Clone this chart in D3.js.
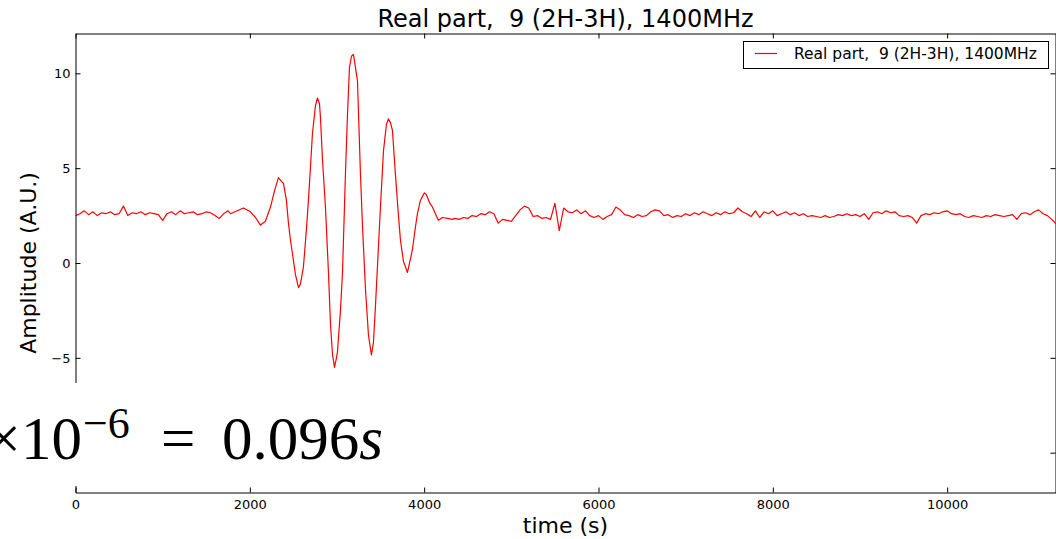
<!DOCTYPE html>
<html>
<head>
<meta charset="utf-8">
<script src="https://cdn.jsdelivr.net/npm/d3@7"></script>
<style>
  body { margin: 0; background: #fff; }
  svg text { font-family: "DejaVu Sans", sans-serif; fill: #000; white-space: pre; }
</style>
</head>
<body>
<div id="chart"></div>
<script>
// quiet part before the burst, one sample every 50 s from t = 0
const quietBeforeStart = 0, quietStep = 50;
const quietBefore = [
  2.5, 2.6, 2.75, 2.55, 2.7, 2.5, 2.65, 2.6, 2.7, 2.55,
  2.6, 3.0, 2.5, 2.65, 2.6, 2.7, 2.55, 2.65, 2.6, 2.55,
  2.25, 2.6, 2.7, 2.55, 2.75, 2.6, 2.65, 2.7, 2.55, 2.6,
  2.7, 2.65, 2.5, 2.35, 2.6, 2.75
];

// the burst itself, read point by point
const burstTime = [
  1778, 1927, 2007, 2065, 2122, 2179, 2237, 2283, 2328, 2363,
  2386, 2420, 2443, 2466, 2489, 2523, 2558, 2581, 2615, 2650,
  2672, 2695, 2718, 2753, 2776, 2799, 2810, 2833, 2868, 2902,
  2925, 2948, 2971, 2994, 3005, 3040, 3063, 3097, 3120, 3143,
  3166, 3189, 3212, 3235, 3269, 3292, 3327, 3361, 3395, 3418,
  3441, 3475, 3498, 3533, 3567, 3590, 3613, 3636, 3670, 3705,
  3728, 3762, 3808, 3842, 3865, 3900, 3923, 3957, 3980, 4003,
  4026, 4060, 4095, 4129, 4163, 4209, 4267, 4324
];
const burstAmp = [
  2.6, 2.9, 2.7, 2.4, 2.0, 2.2, 2.95, 3.8, 4.5, 4.3,
  4.2, 3.3, 2.1, 1.2, 0.5, -0.6, -1.3, -1.1, -0.2, 1.8,
  3.3, 5.0, 6.8, 8.3, 8.7, 8.4, 7.7, 5.5, 2.9, -0.5,
  -3.2, -4.8, -5.5, -5.0, -4.7, -2.5, -0.5, 4.7, 7.8, 10.3,
  10.9, 11.0, 10.3, 9.6, 4.7, 2.0, -1.4, -3.8, -4.85, -4.2,
  -2.3, 0.8, 2.9, 5.9, 7.3, 7.6, 7.4, 7.0, 4.7, 2.5,
  1.2, 0.1, -0.5, 0.2, 0.7, 1.9, 2.6, 3.3, 3.5, 3.7,
  3.6, 3.2, 2.95, 2.6, 2.25, 2.4, 2.35, 2.3
];

// quiet part after the burst, one sample every 50 s from t = 4350
const quietAfterStart = 4350;
const quietAfter = [
  2.35, 2.3, 2.4, 2.35, 2.5, 2.45, 2.6, 2.55, 2.7, 2.6,
  2.1, 2.3, 2.25, 2.2, 2.5, 2.8, 3.0, 2.9, 2.45, 2.5,
  2.35, 2.4, 2.3, 3.15, 1.7, 2.9, 2.7, 2.65, 2.8, 2.6,
  2.75, 2.5, 2.4, 2.5, 2.3, 2.45, 2.55, 2.95, 2.8, 2.55,
  2.5, 2.4, 2.55, 2.45, 2.5, 2.7, 2.8, 2.75, 2.5, 2.55,
  2.4, 2.5, 2.45, 2.6, 2.5, 2.65, 2.55, 2.7, 2.6, 2.5,
  2.65, 2.55, 2.7, 2.6, 2.65, 2.9, 2.7, 2.6, 2.45, 2.75,
  2.4, 2.7, 2.6, 2.75, 2.5, 2.6, 2.7, 2.55, 2.65, 2.5,
  2.6, 2.45, 2.5, 2.45, 2.4, 2.5, 2.4, 2.45, 2.55, 2.5,
  2.6, 2.5, 2.55, 2.45, 2.6, 2.3, 2.65, 2.7, 2.6, 2.75,
  2.65, 2.7, 2.5, 2.45, 2.5, 2.4, 2.1, 2.5, 2.6, 2.55,
  2.65, 2.6, 2.7, 2.75, 2.6, 2.55, 2.6, 2.45, 2.4, 2.5,
  2.45, 2.4, 2.5, 2.45, 2.55, 2.5, 2.45, 2.5, 2.55, 2.3,
  2.6, 2.65, 2.55, 2.7, 2.8, 2.6, 2.5, 2.3, 2.05
];

const xTicks = [0, 2000, 4000, 6000, 8000, 10000];
const yTicks = [-10, -5, 0, 5, 10];
const yLabelled = [-5, 0, 5, 10]; // the -10 label sits under the white box
const title = "Real part,  9 (2H-3H), 1400MHz";

// build one series of [t, amplitude]
const series = []
quietBefore.forEach((v, i) => series.push([quietBeforeStart + i * quietStep, v]))
burstTime.forEach((t, i) => series.push([t, burstAmp[i]]))
quietAfter.forEach((v, i) => series.push([quietAfterStart + i * quietStep, v]))

const width = 1056, height = 539;
const margin = { top: 33.5, right: 0.5, bottom: 46.5, left: 75.5 };
const innerW = width - margin.left - margin.right,
  innerH = height - margin.top - margin.bottom;

const svg = d3.select("#chart")
  .append("svg")
  .attr("width", width)
  .attr("height", height);

const x = d3.scaleLinear().domain([0, 11243]).range([0, innerW]);
const y = d3.scaleLinear().domain([-12.1, 12.1]).range([innerH, 0]);

const g = svg.append("g")
  .attr("transform", `translate(${margin.left},${margin.top})`);

g.append("clipPath").attr("id", "clip")
  .append("rect").attr("width", innerW).attr("height", innerH);

// the signal
const line = d3.line()
  .x(d => x(d[0]))
  .y(d => y(d[1]));

g.append("path")
  .datum(series)
  .attr("clip-path", "url(#clip)")
  .attr("fill", "none")
  .attr("stroke", "#ff0000")
  .attr("stroke-width", 1.2)
  .attr("stroke-linejoin", "round")
  .attr("d", line);

// axes, ticks pointing inward like the classic matplotlib style
const fmt = d => yLabelled.includes(d) || xTicks.includes(d) ? (d < 0 ? "\u2212" + Math.abs(d) : String(d)) : "";

const bottomAxis = g.append("g")
  .attr("transform", `translate(0,${innerH})`)
  .call(d3.axisBottom(x).tickValues(xTicks).tickSizeInner(-5).tickSizeOuter(0).tickPadding(7).tickFormat(fmt));
const topAxis = g.append("g")
  .call(d3.axisTop(x).tickValues(xTicks).tickSizeInner(-5).tickSizeOuter(0).tickFormat(""));
const leftAxis = g.append("g")
  .call(d3.axisLeft(y).tickValues(yTicks).tickSizeInner(-5).tickSizeOuter(0).tickPadding(5)
    .tickFormat(d => yLabelled.includes(d) ? (d < 0 ? "\u2212" + Math.abs(d) : String(d)) : ""));
const rightAxis = g.append("g")
  .attr("transform", `translate(${innerW},0)`)
  .call(d3.axisRight(y).tickValues(yTicks).tickSizeInner(-5).tickSizeOuter(0).tickFormat(""));

[bottomAxis, topAxis, leftAxis, rightAxis].forEach(a => {
  a.selectAll("path.domain").attr("stroke", "#000").attr("stroke-width", 1);
  a.selectAll(".tick line").attr("stroke", "#000");
  a.selectAll("text").style("font-size", "13px").style("font-family", "DejaVu Sans, sans-serif");
})

// title and axis labels
svg.append("text")
  .attr("x", margin.left + innerW / 2)
  .attr("y", 27)
  .attr("text-anchor", "middle")
  .style("font-size", "24px")
  .text(title);

svg.append("text")
  .attr("x", margin.left + innerW / 2)
  .attr("y", 533)
  .attr("text-anchor", "middle")
  .style("font-size", "22px")
  .text("time (s)");

svg.append("text")
  .attr("transform", `translate(36,${margin.top + innerH / 2}) rotate(-90)`)
  .attr("text-anchor", "middle")
  .style("font-size", "22px")
  .text("Amplitude (A.U.)");

// legend
const legend = svg.append("g");
legend.append("rect")
  .attr("x", 743.5).attr("y", 41.5)
  .attr("width", 305).attr("height", 27)
  .attr("fill", "#fff").attr("stroke", "#000").attr("stroke-width", 1);
legend.append("line")
  .attr("x1", 755).attr("x2", 777)
  .attr("y1", 53.5).attr("y2", 53.5)
  .attr("stroke", "#ff0000").attr("stroke-width", 1.2);
legend.append("text")
  .attr("x", 794).attr("y", 59)
  .style("font-size", "15.5px")
  .text(title);

// white annotation box with the big formula that covers the lower part
svg.append("rect")
  .attr("x", -10).attr("y", 383)
  .attr("width", 1060).attr("height", 103)
  .attr("fill", "#fff");

const serif = "'Liberation Serif', 'DejaVu Serif', serif";
svg.append("text")
  .attr("x", 82).attr("y", 459)
  .attr("text-anchor", "end")
  .style("font-family", serif).style("font-size", "61px")
  .text("\u00d710");
svg.append("text")
  .attr("x", 83).attr("y", 438)
  .style("font-family", serif).style("font-size", "44px")
  .text("\u22126");
svg.append("text")
  .attr("x", 161).attr("y", 459)
  .style("font-family", serif).style("font-size", "61px")
  .text("=");
const num = svg.append("text")
  .attr("x", 222).attr("y", 459)
  .style("font-family", serif).style("font-size", "61px");
num.append("tspan").text("0.096");
num.append("tspan").style("font-style", "italic").text("s");
</script>
</body>
</html>
